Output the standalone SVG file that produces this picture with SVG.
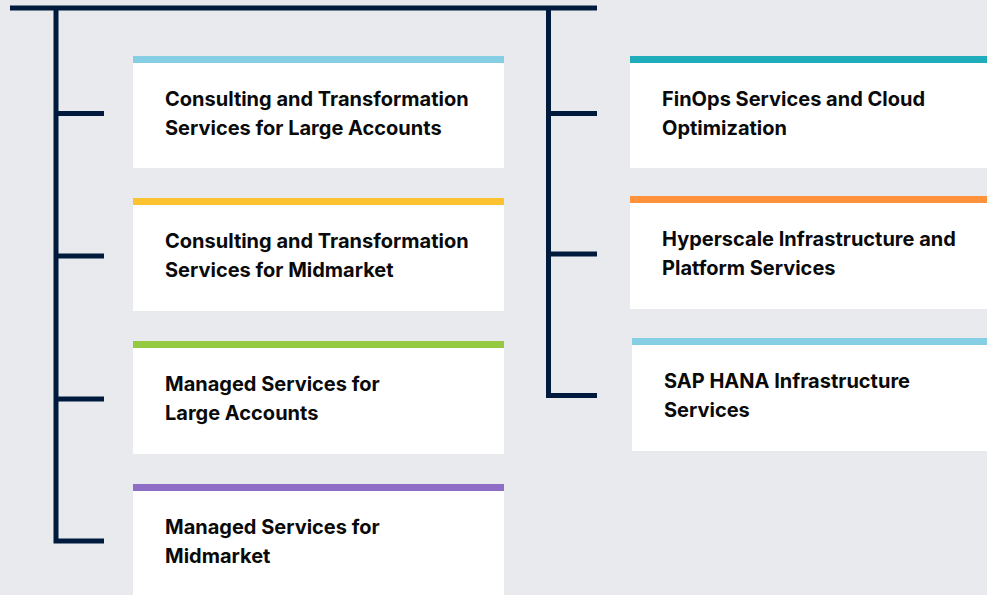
<svg xmlns="http://www.w3.org/2000/svg" width="987" height="595" viewBox="0 0 987 595">
<style>
.bg{fill:#e9eaee}
.card{fill:#ffffff}
.ln{stroke:#001a3d;stroke-width:5;fill:none;stroke-linecap:butt;stroke-linejoin:miter}
.t{font-family:"Inter","Liberation Sans",sans-serif;font-weight:700;font-size:20px;fill:#0a0a0a}
</style>
<rect class="bg" x="0" y="0" width="987" height="595"/>
<g id="connectors">
<path class="ln" d="M10 8 H597"/>
<path class="ln" d="M56 8 V541 H104"/>
<path class="ln" d="M56 113.5 H104 M56 256 H104 M56 399 H104"/>
<path class="ln" d="M548.5 8 V395.5 H597"/>
<path class="ln" d="M548.5 113.5 H597 M548.5 254 H597"/>
</g>
<g id="node-l1">
<rect class="card" x="133" y="56" width="371" height="112"/>
<rect x="133" y="56" width="371" height="7" fill="#86cee3"/>
<text class="t" x="165" y="106">Consulting and Transformation</text>
<text class="t" x="165" y="135">Services for Large Accounts</text>
</g>
<g id="node-l2">
<rect class="card" x="133" y="198" width="371" height="113"/>
<rect x="133" y="198" width="371" height="7" fill="#fdc230"/>
<text class="t" x="165" y="248">Consulting and Transformation</text>
<text class="t" x="165" y="277">Services for Midmarket</text>
</g>
<g id="node-l3">
<rect class="card" x="133" y="341" width="371" height="113"/>
<rect x="133" y="341" width="371" height="7" fill="#95c942"/>
<text class="t" x="165" y="391">Managed Services for</text>
<text class="t" x="165" y="420">Large Accounts</text>
</g>
<g id="node-l4">
<rect class="card" x="133" y="484" width="371" height="111"/>
<rect x="133" y="484" width="371" height="7" fill="#8d6dc6"/>
<text class="t" x="165" y="534">Managed Services for</text>
<text class="t" x="165" y="563">Midmarket</text>
</g>
<g id="node-r1">
<rect class="card" x="630" y="56" width="357" height="112"/>
<rect x="630" y="56" width="357" height="7" fill="#1fadbb"/>
<text class="t" x="662" y="106">FinOps Services and Cloud</text>
<text class="t" x="662" y="135">Optimization</text>
</g>
<g id="node-r2">
<rect class="card" x="630" y="196" width="357" height="113"/>
<rect x="630" y="196" width="357" height="7" fill="#ff923a"/>
<text class="t" x="662" y="246">Hyperscale Infrastructure and</text>
<text class="t" x="662" y="275">Platform Services</text>
</g>
<g id="node-r3">
<rect class="card" x="632" y="338" width="355" height="113"/>
<rect x="632" y="338" width="355" height="7" fill="#86cee3"/>
<text class="t" x="664" y="388">SAP HANA Infrastructure</text>
<text class="t" x="664" y="417">Services</text>
</g>
</svg>
